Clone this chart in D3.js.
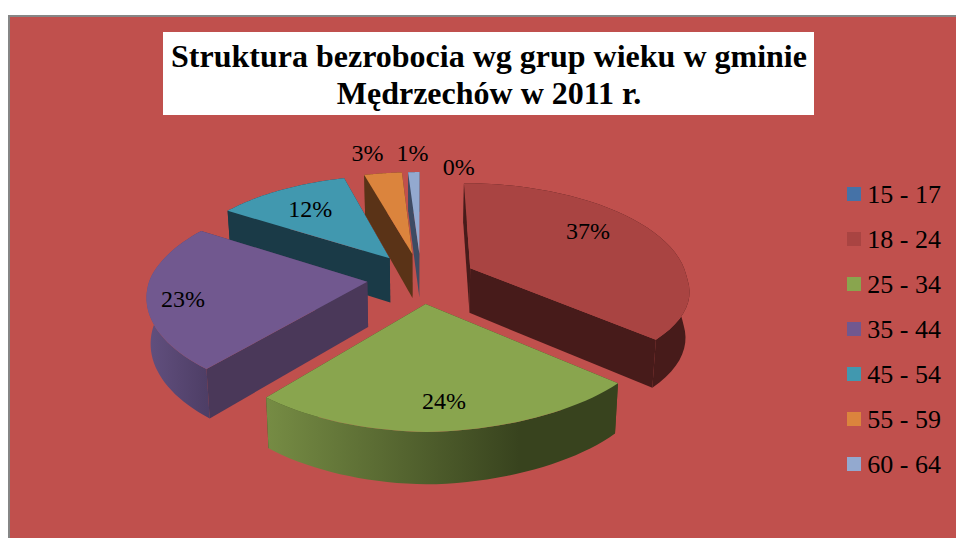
<!DOCTYPE html>
<html><head><meta charset="utf-8">
<script src="https://cdn.jsdelivr.net/npm/d3@7"></script>
<style>html,body{margin:0;padding:0;background:#fff;overflow:hidden}svg{display:block}text{font-family:"Liberation Serif",serif;fill:#000}</style>
</head><body><svg id="c" width="956" height="538"></svg>
<script>
const categories=["15 - 17","18 - 24","25 - 34","35 - 44","45 - 54","55 - 59","60 - 64"];
const values=[0,37.2,24,22.9,11.6,3.3,1];
const labels=["0%","37%","24%","23%","12%","3%","1%"];
const titleLines=["Struktura bezrobocia wg grup wieku w gminie","Mędrzechów w 2011 r."];
const topColors=["#4572A7","#A94442","#89A54E","#71588F","#4198AF","#DB843D","#93A9CF"];
const wallColors=["#2A4565","#471B1A","#38431E","#4A3859","#1A3A47","#5A3317","#3E4B63"];
const arcStops=[null,["#471B1A","#471B1A"],["#768C44","#38431E"],["#62507F","#4E3E66"],["#1A3A47","#1A3A47"],["#5A3317","#5A3317"],["#3E4B63","#3E4B63"]];
const labelRadial=[1.09,.72,.79,.84,.70,1.3,1.28];
const labelTurn=[11,-11,-.5,-3,-.5,-2,0];

const svg=d3.select("#c"), defs=svg.append("defs");
const cx=421,cy=278,R=217,T=100.4,P=.148,EXPLODE=.25,DEPTH=45,SKEW=7,TWIST_X=8,TWIST_Y=7;
const rad=Math.PI/180;
function project(X,Y){
  const k=1/(1-P*Y), q=Math.max(0,X)*Math.max(0,Y);
  return [cx+X*R*k+Math.max(0,Y)*SKEW+q*TWIST_X,cy+Y*T*k-q*TWIST_Y,k];
}
function bottom(p){const q=p[2];return [cx+(p[0]-cx)*.985,p[1]+DEPTH*Math.pow(q,.75)];}
const line=d3.line();

svg.append("rect").attr("x",9).attr("y",16).attr("width",960).attr("height",540)
  .attr("fill","#C0504D").attr("stroke","#868686").attr("stroke-width",2);
svg.append("rect").attr("x",163).attr("y",32).attr("width",651).attr("height",83).attr("fill","#fff");
svg.append("g").selectAll("text").data(titleLines).join("text")
  .attr("x",489).attr("y",(d,i)=>67+i*37).attr("text-anchor","middle")
  .attr("font-size",32).attr("font-weight","bold").text(d=>d);

const arcs=d3.pie().sort(null).value(d=>d).startAngle(0).endAngle(2*Math.PI)(values);
const slices=arcs.map((a,i)=>{
  const mid=(a.startAngle+a.endAngle)/2;
  const ox=Math.sin(mid)*EXPLODE, oy=-Math.cos(mid)*EXPLODE;
  const pt=(t,r)=>project(ox+Math.sin(t)*r,oy-Math.cos(t)*r);
  const ts=d3.range(0,41).map(j=>a.startAngle+(a.endAngle-a.startAngle)*j/40);
  return {i,a,mid,ox,oy,pt,ts};
}).filter(s=>s.a.value>0);

const order=[4,5,6,1,3,2];
const g=svg.append("g");
order.forEach(i=>{
  const s=slices.find(d=>d.i===i);
  const rim=s.ts.map(t=>s.pt(t,1)), apex=s.pt(0,0);
  const gid="arc"+i, x0=d3.min(rim,p=>p[0]), x1=d3.max(rim,p=>p[0]);
  const lg=defs.append("linearGradient").attr("id",gid).attr("gradientUnits","userSpaceOnUse")
    .attr("x1",x0).attr("x2",x1).attr("y1",0).attr("y2",0);
  lg.append("stop").attr("offset",0).attr("stop-color",arcStops[i][0]);
  lg.append("stop").attr("offset",i===2?.72:1).attr("stop-color",arcStops[i][1]);
  const faces=[
    {pts:[apex,rim[0],bottom(rim[0]),bottom(apex)],fill:wallColors[i]},
    {pts:[apex,rim[40],bottom(rim[40]),bottom(apex)],fill:wallColors[i]},
    {pts:[...rim,...rim.slice().reverse().map(bottom)],fill:`url(#${gid})`}
  ];
  faces.sort((a,b)=>d3.mean(a.pts,p=>p[1])-d3.mean(b.pts,p=>p[1]));
  faces.forEach(f=>g.append("path").attr("d",line(f.pts.map(p=>[p[0],p[1]]))+"Z").attr("fill",f.fill));
  g.append("path").attr("d",line([apex,...rim].map(p=>[p[0],p[1]]))+"Z").attr("fill",topColors[i]);
});

arcs.forEach((a,i)=>{
  const mid=(a.startAngle+a.endAngle)/2, t=mid+labelTurn[i]*rad;
  const ox=Math.sin(mid)*EXPLODE, oy=-Math.cos(mid)*EXPLODE;
  const p=project(ox+Math.sin(t)*labelRadial[i],oy-Math.cos(t)*labelRadial[i]);
  svg.append("text").attr("x",p[0]).attr("y",p[1]+8).attr("text-anchor","middle").attr("font-size",24).text(labels[i]);
});

const ly=d3.scalePoint().domain(categories).range([194,464]);
const lg=svg.append("g").selectAll("g").data(categories).join("g");
lg.append("rect").attr("x",847).attr("y",d=>ly(d)-7).attr("width",14).attr("height",14).attr("fill",(d,i)=>topColors[i]);
lg.append("text").attr("x",941).attr("y",d=>ly(d)+9).attr("text-anchor","end").attr("font-size",26).text(d=>d);
</script></body></html>
